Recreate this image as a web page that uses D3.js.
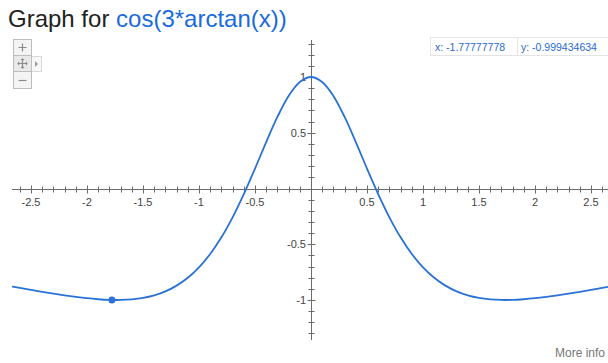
<!DOCTYPE html>
<html>
<head>
<meta charset="utf-8">
<script src="https://cdn.jsdelivr.net/npm/d3@7"></script>
<style>
  html, body { margin: 0; padding: 0; background: #fff; }
  svg { display: block; font-family: "Liberation Sans", Arial, sans-serif; }
</style>
</head>
<body>
<svg id="chart" width="608" height="363"></svg>
<script>
// Sampled points of the plotted curve (x, y)
const xValues = [
  -2.8, -2.7, -2.6, -2.5, -2.4, -2.3, -2.2, -2.1, -2.0, -1.9, -1.8, -1.7, -1.6, -1.5, -1.4,
  -1.3, -1.2, -1.1, -1.0, -0.9, -0.8, -0.7, -0.6, -0.5, -0.4, -0.3, -0.2, -0.1, 0.0,
  0.1, 0.2, 0.3, 0.4, 0.5, 0.6, 0.7, 0.8, 0.9, 1.0, 1.1, 1.2, 1.3, 1.4,
  1.5, 1.6, 1.7, 1.8, 1.9, 2.0, 2.1, 2.2, 2.3, 2.4, 2.5, 2.6, 2.7, 2.8
];
const yValues = [
  -0.8568, -0.8744, -0.8919, -0.9093, -0.9263, -0.9426, -0.9580, -0.9719, -0.9839, -0.9931, -0.9988, -0.9997, -0.9945, -0.9814, -0.9583,
  -0.9225, -0.8711, -0.8005, -0.7071, -0.5872, -0.4380, -0.2584, -0.0504, 0.1789, 0.4162, 0.6415, 0.8297, 0.9556, 1.0,
  0.9556, 0.8297, 0.6415, 0.4162, 0.1789, -0.0504, -0.2584, -0.4380, -0.5872, -0.7071, -0.8005, -0.8711, -0.9225, -0.9583,
  -0.9814, -0.9945, -0.9997, -0.9988, -0.9931, -0.9839, -0.9719, -0.9580, -0.9426, -0.9263, -0.9093, -0.8919, -0.8744, -0.8568
];

// Highlighted point and its readout
const markerX = -1.77777778;
const markerY = -0.999434634;

// Axis labels
const xTickValues = [-2.5, -2, -1.5, -1, -0.5, 0.5, 1, 1.5, 2, 2.5];
const yTickValues = [1, 0.5, -0.5, -1];

const titlePrefix = "Graph for ";
const titleExpr = "cos(3*arctan(x))";

const svg = d3.select("#chart");
const W = 608, H = 363;

const x = d3.scaleLinear().domain([-2.5, 2.5]).range([31, 591]);
const y = d3.scaleLinear().domain([-1, 1]).range([300, 77]);

const axisColor = "#6b6b6b";
const curveColor = "#2b72d8";
const labelColor = "#444";

// Major ticks sit on multiples of 0.5 and are a little longer
const isMajor = d => Math.abs(d * 2 - Math.round(d * 2)) < 1e-9;
const tickLen = d => (isMajor(d) ? 4 : 3);

// Plot area clip
svg.append("defs").append("clipPath").attr("id", "plotClip")
  .append("rect").attr("x", 12).attr("y", 30).attr("width", W - 12).attr("height", 320);

// Horizontal axis line with minor and major ticks
const xAxisG = svg.append("g");
xAxisG.append("line")
  .attr("x1", 12).attr("x2", W)
  .attr("y1", Math.round(y(0)) + 0.5).attr("y2", Math.round(y(0)) + 0.5)
  .attr("stroke", axisColor).attr("stroke-width", 1);

const xMinor = d3.range(-27, 27).map(d => d / 10).filter(d => Math.abs(d) > 1e-9 && x(d) > 12 && x(d) < W);
xAxisG.selectAll("line.xminor").data(xMinor).join("line")
  .attr("class", "xminor")
  .attr("x1", d => Math.round(x(d)) + 0.5).attr("x2", d => Math.round(x(d)) + 0.5)
  .attr("y1", d => Math.round(y(0)) + 0.5 - tickLen(d))
  .attr("y2", d => Math.round(y(0)) + 0.5 + tickLen(d))
  .attr("stroke", axisColor).attr("stroke-width", 1);

xAxisG.selectAll("text").data(xTickValues).join("text")
  .attr("x", d => x(d)).attr("y", y(0) + 17)
  .attr("text-anchor", "middle")
  .attr("font-size", 11).attr("fill", labelColor)
  .text(d => String(d));

// Vertical axis line with ticks
const yAxisG = svg.append("g");
yAxisG.append("line")
  .attr("x1", Math.round(x(0)) + 0.5).attr("x2", Math.round(x(0)) + 0.5)
  .attr("y1", 40).attr("y2", 340)
  .attr("stroke", axisColor).attr("stroke-width", 1);

const yMinor = d3.range(-13, 14).map(d => d / 10).filter(d => Math.abs(d) > 1e-9);
yAxisG.selectAll("line.yminor").data(yMinor).join("line")
  .attr("class", "yminor")
  .attr("y1", d => Math.round(y(d)) + 0.5).attr("y2", d => Math.round(y(d)) + 0.5)
  .attr("x1", d => Math.round(x(0)) + 0.5 - tickLen(d))
  .attr("x2", d => Math.round(x(0)) + 0.5 + tickLen(d))
  .attr("stroke", axisColor).attr("stroke-width", 1);

yAxisG.selectAll("text").data(yTickValues).join("text")
  .attr("x", x(0) - 5).attr("y", d => y(d))
  .attr("dy", "0.35em")
  .attr("text-anchor", "end")
  .attr("font-size", 11).attr("fill", labelColor)
  .text(d => String(d));

// Curve
const points = xValues.map((v, i) => [v, yValues[i]]);
const line = d3.line()
  .x(d => x(d[0])).y(d => y(d[1]))
  .curve(d3.curveCatmullRom.alpha(0.5));

svg.append("path")
  .datum(points)
  .attr("clip-path", "url(#plotClip)")
  .attr("d", line)
  .attr("fill", "none")
  .attr("stroke", curveColor)
  .attr("stroke-width", 1.8);

// Highlighted point
svg.append("circle")
  .attr("cx", x(markerX)).attr("cy", y(markerY))
  .attr("r", 3.5)
  .attr("fill", curveColor);

// Title
const title = svg.append("text")
  .attr("x", 8).attr("y", 27)
  .attr("font-size", 24);
title.append("tspan").attr("fill", "#222").text(titlePrefix);
title.append("tspan").attr("fill", "#1a6ae0").text(titleExpr);

// Coordinate readout box
const readout = svg.append("g");
readout.append("rect")
  .attr("x", 430.5).attr("y", 37.5).attr("width", 200).attr("height", 18)
  .attr("fill", "#fff").attr("stroke", "#e4e4e4");
readout.append("line")
  .attr("x1", 517.5).attr("x2", 517.5).attr("y1", 37.5).attr("y2", 55.5)
  .attr("stroke", "#e4e4e4");
readout.append("text")
  .attr("x", 435).attr("y", 50.5)
  .attr("font-size", 10.5).attr("fill", "#2a6ad0")
  .text("x: " + markerX.toFixed(8));
readout.append("text")
  .attr("x", 521).attr("y", 50.5)
  .attr("font-size", 10.5).attr("fill", "#2a6ad0")
  .text("y: " + markerY.toFixed(9));

// Zoom / pan controls
const ctrl = svg.append("g").attr("fill", "#f4f4f4").attr("stroke", "#bdbdbd");
ctrl.append("rect").attr("x", 31.5).attr("y", 56.5).attr("width", 10).attr("height", 15).attr("fill", "#f7f7f7").attr("stroke", "#d8d8d8");
ctrl.append("rect").attr("x", 13.5).attr("y", 39.5).attr("width", 18).attr("height", 16);
ctrl.append("rect").attr("x", 13.5).attr("y", 55.5).attr("width", 18).attr("height", 16).attr("fill", "#e9e9e9");
ctrl.append("rect").attr("x", 13.5).attr("y", 71.5).attr("width", 18).attr("height", 17);
const glyph = svg.append("g").attr("stroke", "#8a8a8a").attr("stroke-width", 1.2).attr("fill", "none");
glyph.append("path").attr("d", "M18.5,47.5 H26.5 M22.5,43.5 V51.5");
glyph.append("path").attr("d", "M17.5,63.5 H27.5 M22.5,58.5 V68.5");
glyph.append("path").attr("d", "M18.5,80.5 H26.5");
svg.append("path").attr("d", "M35,61 L38,64 L35,67 Z").attr("fill", "#9a9a9a");
svg.append("path").attr("d", "M20,63.5 l-2,-2 v4 Z M25,63.5 l2,-2 v4 Z M22.5,61 l-2,-2 h4 Z M22.5,66 l-2,2 h4 Z").attr("fill", "#8a8a8a");

// Footer link
svg.append("text")
  .attr("x", 605).attr("y", 357)
  .attr("text-anchor", "end")
  .attr("font-size", 12).attr("fill", "#777")
  .text("More info");
</script>
</body>
</html>
